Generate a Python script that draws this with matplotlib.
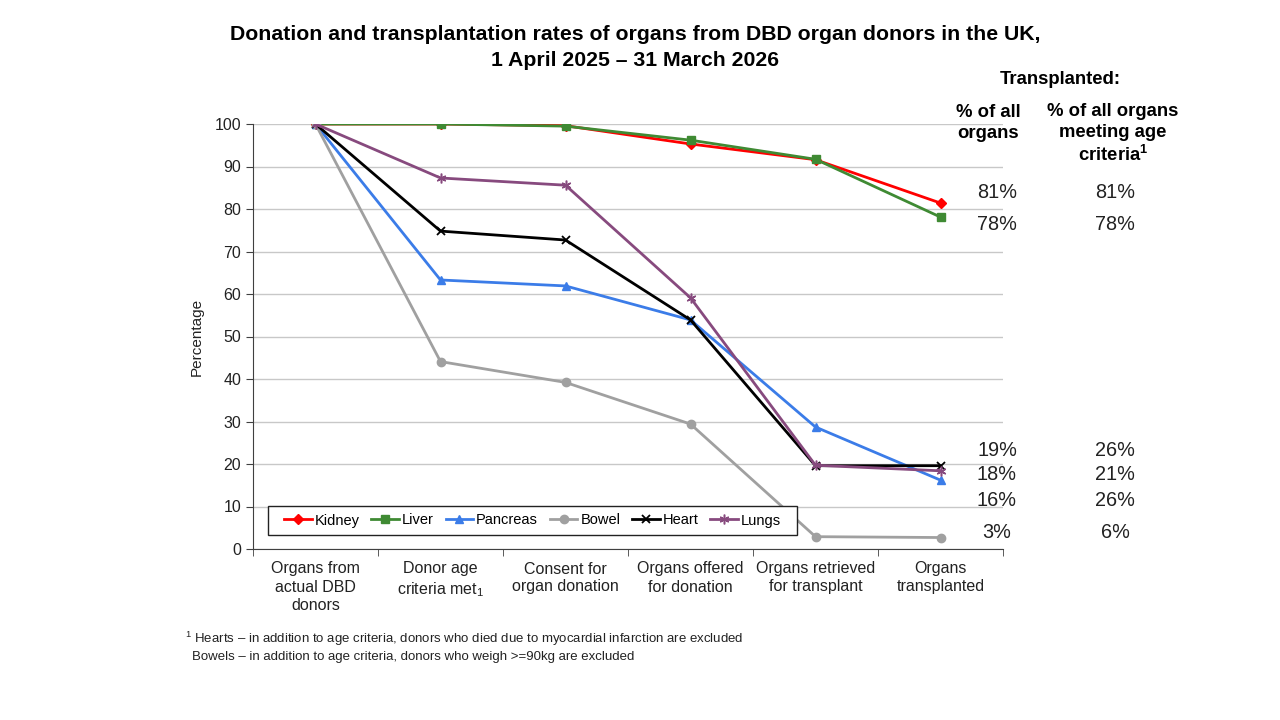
import matplotlib
matplotlib.use("Agg")
import matplotlib.pyplot as plt
from matplotlib.patches import Rectangle
import numpy as np

plt.rcParams['font.family'] = ['Liberation Sans', 'DejaVu Sans']
plt.rcParams['mathtext.fontset'] = 'custom'
plt.rcParams['mathtext.rm'] = 'Liberation Sans'
plt.rcParams['mathtext.it'] = 'Liberation Sans'
plt.rcParams['mathtext.bf'] = 'Liberation Sans:bold'

categories = ["Organs from\nactual DBD\ndonors", "Donor age\ncriteria met$_1$",
              "Consent for\norgan donation", "Organs offered\nfor donation",
              "Organs retrieved\nfor transplant", "Organs\ntransplanted"]

kidney = [100, 100, 99.6, 95.3, 91.6, 81.4]
liver = [100, 100, 99.5, 96.2, 91.7, 78.1]
pancreas = [100, 63.3, 61.9, 53.9, 28.7, 16.2]
bowel = [100, 44.1, 39.2, 29.4, 2.9, 2.7]
heart = [100, 74.8, 72.7, 53.9, 19.6, 19.6]
lungs = [100, 87.3, 85.6, 59.1, 19.7, 18.4]

series_names = ["Kidney", "Liver", "Pancreas", "Bowel", "Heart", "Lungs"]
pct_all = ["81%", "78%", "16%", "3%", "19%", "18%"]
pct_age = ["81%", "78%", "26%", "6%", "26%", "21%"]

fig = plt.figure(figsize=(12.8, 7.2), dpi=100)
ax = fig.add_axes([253/1280, 1-549/720, 750/1280, 425/720])

x = np.arange(len(categories))
styles = [
    (kidney, "#FF0000", "D", 5, {}),
    (liver, "#3F8A33", "s", 6, {}),
    (pancreas, "#3B7CE8", "^", 6, {}),
    (bowel, "#A0A0A0", "o", 6, {}),
    (heart, "#000000", "x", 6, {"markeredgewidth": 1.3}),
    (lungs, "#874A7E", (6, 2, 0), 7, {"markeredgewidth": 1.1}),
]
for (vals, col, mk, ms, kw), name in zip(styles, series_names):
    ax.plot(x, vals, color=col, marker=mk, markersize=ms, linewidth=2.0,
            label=name, **kw)

ax.set_xlim(-0.5, 5.5)
ax.set_ylim(0, 100)
ax.set_yticks(np.arange(0, 101, 10))
ax.yaxis.grid(True, color="#C8C8C8", linewidth=1)
ax.set_axisbelow(True)
ax.set_xticks(x)
ax.set_xticklabels(categories, fontsize=11.5, color="#222222", linespacing=1.25)
ax.set_xticks(np.arange(-0.5, 5.6, 1), minor=True)
ax.tick_params(axis='x', which='major', length=0, pad=9)
ax.tick_params(axis='x', which='minor', length=5, direction='out', color="#404040")
ax.tick_params(axis='y', length=5, direction='out', labelsize=11.5, color="#404040",
               labelcolor="#222222")
for s in ["top", "right"]:
    ax.spines[s].set_visible(False)
for s in ["left", "bottom"]:
    ax.spines[s].set_color("#404040")
ax.set_ylabel("Percentage", fontsize=11, color="#222222", labelpad=8)

# legend frame drawn manually
lx0, lx1, ly0, ly1 = 268, 797, 535, 506
ax.add_patch(Rectangle(((lx0-253)/750, (549-ly0)/425), (lx1-lx0)/750, (ly0-ly1)/425,
                       transform=ax.transAxes, fill=True, facecolor="white",
                       edgecolor="#222222", linewidth=1, zorder=5))
leg = ax.legend(loc="center", bbox_to_anchor=(((lx0+lx1)/2-253)/750, (549-(ly0+ly1)/2)/425),
                ncol=6, fontsize=10.5, frameon=False, handlelength=1.9,
                handletextpad=0.2, columnspacing=0.8, borderpad=0, borderaxespad=0)
leg.set_zorder(6)

fig.text(635/1280, 1-35/720, "Donation and transplantation rates of organs from DBD organ donors in the UK,",
         ha="center", va="center", fontsize=15.3, fontweight="bold")
fig.text(635/1280, 1-61/720, "1 April 2025 \u2013 31 March 2026",
         ha="center", va="center", fontsize=15.3, fontweight="bold")

fig.text(1060/1280, 1-79/720, "Transplanted:", ha="center", va="center",
         fontsize=13.3, fontweight="bold")
fig.text(988/1280, 1-123/720, "% of all\norgans", ha="center", va="center",
         fontsize=13.3, fontweight="bold", linespacing=1.25)
fig.text(1113/1280, 1-134/720, "% of all organs\nmeeting age\ncriteria$^{\\mathregular{1}}$",
         ha="center", va="center", fontsize=13.3, fontweight="bold", linespacing=1.25)

ys = [192, 224, 500, 532, 451, 474]
for a, b, yy in zip(pct_all, pct_age, ys):
    fig.text(997/1280, 1-yy/720, a, ha="center", va="center", fontsize=14.3, color="#222222")
    fig.text(1115/1280, 1-yy/720, b, ha="center", va="center", fontsize=14.3, color="#222222")

fig.text(185/1280, 1-639/720, "$^{\\mathregular{1}}$ Hearts \u2013 in addition to age criteria, donors who died due to myocardial infarction are excluded",
         ha="left", va="center", fontsize=9.5, color="#222222")
fig.text(192/1280, 1-657/720, "Bowels \u2013 in addition to age criteria, donors who weigh >=90kg are excluded",
         ha="left", va="center", fontsize=9.5, color="#222222")

fig.savefig("out.png", dpi=100)
